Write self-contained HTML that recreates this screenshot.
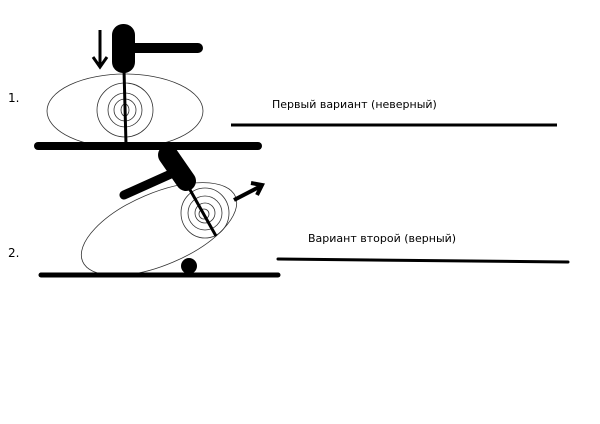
<!DOCTYPE html>
<html><head><meta charset="utf-8"><style>
html,body{margin:0;padding:0;background:#fff;}
svg{display:block;}
text{font-family:"DejaVu Sans","Liberation Sans",sans-serif;font-size:11px;fill:#000;}
</style></head><body>
<svg width="600" height="424" viewBox="0 0 600 424" xmlns="http://www.w3.org/2000/svg">
<rect width="600" height="424" fill="#fff"/>
<text x="8" y="102" style="font-size:12px">1.</text>
<ellipse cx="125" cy="111" rx="78" ry="37" fill="none" stroke="#333" stroke-width="0.8"/>
<ellipse cx="125" cy="110" rx="28" ry="27" fill="none" stroke="#333" stroke-width="0.8"/>
<circle cx="125" cy="110" r="17" fill="none" stroke="#333" stroke-width="0.8"/>
<circle cx="125" cy="110" r="11" fill="none" stroke="#333" stroke-width="0.8"/>
<ellipse cx="125" cy="110" rx="4" ry="6" fill="none" stroke="#333" stroke-width="0.8"/>
<line x1="124" y1="70" x2="126" y2="144" stroke="#000" stroke-width="3"/>
<rect x="112" y="24" width="23" height="49" rx="11" fill="#000"/>
<line x1="132" y1="48" x2="198" y2="48" stroke="#000" stroke-width="10" stroke-linecap="round"/>
<line x1="100" y1="30" x2="100" y2="66" stroke="#000" stroke-width="3"/>
<polyline points="93,57 100,67 107,57" fill="none" stroke="#000" stroke-width="3"/>
<line x1="38" y1="146" x2="258" y2="146" stroke="#000" stroke-width="8" stroke-linecap="round"/>
<text x="272" y="108">Первый вариант (неверный)</text>
<line x1="231" y1="125" x2="557" y2="125" stroke="#000" stroke-width="3"/>
<text x="8" y="257" style="font-size:12px">2.</text>
<ellipse cx="159" cy="229" rx="83" ry="36" transform="rotate(-23 159 229)" fill="none" stroke="#333" stroke-width="0.8"/>
<ellipse cx="205" cy="213" rx="24" ry="25" fill="none" stroke="#333" stroke-width="0.8"/>
<circle cx="205" cy="213" r="17" fill="none" stroke="#333" stroke-width="0.8"/>
<circle cx="205" cy="213" r="10" fill="none" stroke="#333" stroke-width="0.8"/>
<circle cx="204" cy="214" r="5" fill="none" stroke="#333" stroke-width="0.8"/>
<line x1="189" y1="188" x2="216" y2="236" stroke="#000" stroke-width="3"/>
<line x1="173" y1="173" x2="124" y2="195" stroke="#000" stroke-width="9" stroke-linecap="round"/>
<line x1="168" y1="155" x2="186" y2="181" stroke="#000" stroke-width="20" stroke-linecap="round"/>
<line x1="234" y1="200" x2="261" y2="186" stroke="#000" stroke-width="4"/>
<polyline points="251,183 262,185 257,195" fill="none" stroke="#000" stroke-width="4"/>
<circle cx="189" cy="266" r="8" fill="#000"/>
<line x1="41" y1="275" x2="278" y2="275" stroke="#000" stroke-width="5" stroke-linecap="round"/>
<text x="308" y="242">Вариант второй (верный)</text>
<line x1="278" y1="259" x2="568" y2="262" stroke="#000" stroke-width="3" stroke-linecap="round"/>
</svg>
</body></html>
